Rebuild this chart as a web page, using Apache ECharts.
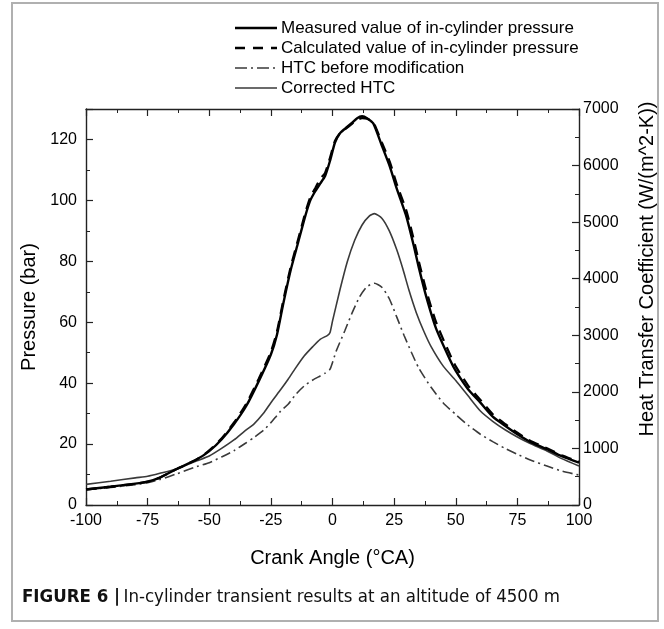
<!DOCTYPE html>
<html>
<head>
<meta charset="utf-8">
<script src="https://cdn.jsdelivr.net/npm/echarts@6/dist/echarts.min.js"></script>
<style>
html,body{margin:0;padding:0;background:#fff;}
#c{width:664px;height:629px;}
</style>
</head>
<body>
<div id="c"></div>
<script>
// Crank angle (°CA) and values
var pMeasX = [-100,-90,-80,-75,-70,-63,-55,-50,-45,-40,-35,-30,-25,-22.5,-20,-17,-14,-11,-9,-7,-5,-3,-1,1,3,5,8,10,12,14,16.6,20,23.3,26,30,33,35,38,42,47.7,50,55,60,65,70,75,80,87,93,100];
var pMeasY = [5.1,6.0,7.0,7.7,9.0,11.9,15.0,17.7,21.5,26.5,32.5,40.5,49.4,56,66,77,86,95,100,103,105.5,108,113,119,122,123.5,125.5,127,127.6,127,125.2,118,111,104,94.6,85,78,68.5,58,47.6,44,38,33.6,29,26,23.2,20.8,18.3,16,13.9];

var pCalcX = [-100,-90,-80,-75,-70,-63,-55,-50,-45,-40,-35,-30,-25,-22.5,-20,-17,-14,-11,-9,-7,-5,-3,-1,1,3,5,8,10,12,14,16.6,20,23.3,26,30,33,35,38,42,47.7,50,55,60,65,70,75,80,87,93,100];
var pCalcY = [5.1,6.0,7.0,7.7,9.0,11.9,15.0,17.9,21.8,27,33.2,41.3,50.3,57,67,78,87,96,101,104,107,109,114,119.5,122,123.3,125.2,126.5,127,126.8,125.5,119,112.5,105.5,96.5,87,80,70.5,60,49.3,45.5,39.2,34.5,29.8,26.6,23.7,21.2,18.6,16.3,14.2];

var hBefX = [-100,-90,-80,-75,-70,-63,-55,-50,-45,-40,-35,-32,-28,-25,-21,-18,-15,-11.5,-8,-5,-3,-1,1.5,5,8,11,14,17,20,23,26,29,32,35,40,45,50,55,60,65,70,75,80,87,93,100];
var hBefY = [270,310,360,395,450,554,680,748,850,960,1100,1190,1320,1456,1660,1780,1950,2104,2210,2281,2330,2400,2720,3080,3400,3680,3860,3920,3850,3650,3330,3000,2700,2420,2080,1800,1600,1410,1250,1120,1000,896,800,690,600,530];

var hCorX = [-100,-90,-80,-75,-70,-63,-55,-50,-45,-40,-35,-32,-28,-25,-21,-18,-15,-11.5,-8,-5,-2,-1,0,3,6,9,12,15,17,20,23,26,28.5,31,34,37,40,45,50,55,60,65,70,75,80,87,93,100];
var hCorY = [365,420,480,507,560,642,780,866,1000,1150,1330,1426,1620,1809,2040,2222,2420,2634,2800,2929,3000,3050,3250,3800,4300,4680,4950,5110,5150,5070,4850,4520,4180,3800,3400,3076,2800,2450,2200,1930,1662,1480,1330,1202,1090,955,820,690];

var seriesNames = ['Measured value of in-cylinder pressure','Calculated value of in-cylinder pressure','HTC before modification','Corrected HTC'];
var xTicks = {min:-100, max:100, interval:25};
var pTicks = {min:0, max:130, interval:20};
var hTicks = {min:0, max:7000, interval:1000};

function pairs(xs, ys){ return xs.map(function(x,i){return [x, ys[i]];}); }

var chart = echarts.init(document.getElementById('c'), null, {renderer:'canvas'});
var FONT = "'Liberation Sans', Arial, sans-serif";
var CAPFONT = "'Liberation Sans Narrow','DejaVu Sans Condensed','Liberation Sans', sans-serif";
var axisCol = '#222';

var lineStyles = [
  {color:'#000', width:2.4, type:'solid'},
  {color:'#000', width:2.3, type:[11,7]},
  {color:'#3a3a3a', width:1.6, type:[10,4,2,4]},
  {color:'#3a3a3a', width:1.6, type:'solid'}
];

function ax(extra){
  var base = {
    axisLine:{show:true, onZero:false, lineStyle:{color:axisCol, width:1.4}},
    axisTick:{show:true, inside:true, length:7, lineStyle:{color:axisCol, width:1.2}},
    minorTick:{show:true, splitNumber:2, length:4, lineStyle:{color:axisCol, width:1}},
    splitLine:{show:false}
  };
  return Object.assign(base, extra);
}
var lab = function(v){ return String(v); };

// manual legend (line sample + real text)
var legendGraphics = [];
seriesNames.forEach(function(n, i){
  var y = 28 + 20*i;
  var ls = lineStyles[i];
  legendGraphics.push({type:'line', shape:{x1:235, y1:y, x2:277, y2:y},
    style:{stroke:ls.color, lineWidth:ls.width, lineDash: (ls.type==='solid'? null : (i===1?[10,8]:[12,4,2,4]))}, silent:true});
  legendGraphics.push({type:'text', x:281, y:y, style:{text:n, fontSize:17, fontFamily:FONT, fill:'#000', textVerticalAlign:'middle', textAlign:'left'}, silent:true});
});

var option = {
  backgroundColor:'#fff',
  animation:false,
  grid:{left:86, right:85, top:109, bottom:124, containLabel:false},
  xAxis:[
    ax({type:'value', position:'bottom', min:xTicks.min, max:xTicks.max, interval:xTicks.interval,
      name:'Crank Angle (°CA)', nameLocation:'middle', nameGap:43,
      nameTextStyle:{fontSize:20, color:'#000', fontFamily:FONT},
      axisLabel:{color:'#000', fontSize:16, fontFamily:FONT, margin:8, formatter:lab}}),
    ax({type:'value', position:'top', min:xTicks.min, max:xTicks.max, interval:xTicks.interval,
      axisLabel:{show:false}})
  ],
  yAxis:[
    ax({type:'value', position:'left', min:pTicks.min, max:pTicks.max, interval:pTicks.interval,
      name:'Pressure (bar)', nameLocation:'middle', nameGap:44, nameRotate:90,
      nameTextStyle:{fontSize:20, color:'#000', fontFamily:FONT},
      axisLabel:{color:'#000', fontSize:16, fontFamily:FONT, margin:9, showMaxLabel:false, formatter:lab}}),
    ax({type:'value', position:'right', min:hTicks.min, max:hTicks.max, interval:hTicks.interval,
      axisLabel:{color:'#000', fontSize:16, fontFamily:FONT, margin:4, formatter:lab}})
  ],
  series:[
    {name:seriesNames[0], type:'line', xAxisIndex:0, yAxisIndex:0, data:pairs(pMeasX,pMeasY),
      showSymbol:false, symbol:'none', smooth:0.2, z:5, lineStyle:lineStyles[0]},
    {name:seriesNames[1], type:'line', xAxisIndex:0, yAxisIndex:0, data:pairs(pCalcX,pCalcY),
      showSymbol:false, symbol:'none', smooth:0.2, z:4, lineStyle:lineStyles[1]},
    {name:seriesNames[2], type:'line', xAxisIndex:0, yAxisIndex:1, data:pairs(hBefX,hBefY),
      showSymbol:false, symbol:'none', smooth:0.2, z:3, lineStyle:lineStyles[2]},
    {name:seriesNames[3], type:'line', xAxisIndex:0, yAxisIndex:1, data:pairs(hCorX,hCorY),
      showSymbol:false, symbol:'none', smooth:0.2, z:3, lineStyle:lineStyles[3]}
  ],
  graphic:[
    {type:'rect', shape:{x:12, y:3, width:646, height:618}, style:{fill:'none', stroke:'#b0b0b0', lineWidth:2}, silent:true, z:-1},
    {type:'text', x:647, y:269, rotation:Math.PI/2, style:{text:'Heat Transfer Coefficient (W/(m^2-K))', fontSize:20, fontFamily:FONT, fill:'#000', textAlign:'center', textVerticalAlign:'middle'}, silent:true},
    {type:'text', left:22, top:588, style:{
      text:'{b|FIGURE 6 |} {r|In-cylinder transient results at an altitude of 4500 m}',
      rich:{
        b:{fontSize:18.5, fontWeight:'bold', fill:'#111', fontFamily:CAPFONT},
        r:{fontSize:18.5, fill:'#111', fontFamily:CAPFONT}
      }
    }}
  ].concat(legendGraphics)
};
chart.setOption(option);
</script>
</body>
</html>
